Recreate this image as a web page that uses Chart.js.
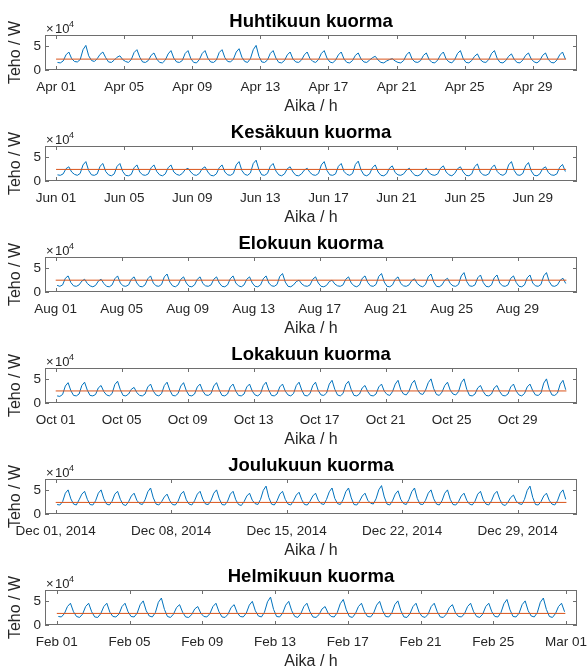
<!DOCTYPE html>
<html>
<head>
<meta charset="utf-8">
<script src="https://cdn.jsdelivr.net/npm/chart.js@4.4.1/dist/chart.umd.min.js"></script>
<style>
  body { margin: 0; background: #fff; }
  #wrap { position: relative; width: 587px; height: 670px; overflow: hidden; }
  #wrap canvas { position: absolute; left: 0; }
</style>
</head>
<body>
<div id="wrap"></div>
<script>
// load in kW, six samples per day taken at these hours
const sampleHours = [2, 6, 10, 14, 18, 22];

const titles = ['Huhtikuun kuorma', 'Kesäkuun kuorma', 'Elokuun kuorma',
  'Lokakuun kuorma', 'Joulukuun kuorma', 'Helmikuun kuorma'];
const monthDays = [30, 30, 31, 31, 31, 28];
const refLevels = [23, 24.5, 25, 25.5, 24.5, 24.5];

const aprLoad = [
  16,15,19,32,38,24, 18,17,22,43,52,30, 20,18,24,33,38,26, 17,16,21,27,30,22,
  18,16,22,37,43,27, 17,16,20,31,36,23, 16,15,21,34,41,25, 17,16,20,35,41,24,
  16,15,22,35,41,25, 17,16,21,37,43,26, 18,17,23,38,45,27, 18,16,24,43,52,29,
  17,16,21,35,41,25, 16,15,20,32,38,23, 17,16,21,32,38,24, 18,16,22,35,41,25,
  17,15,21,32,38,23, 16,15,20,31,36,23, 17,16,21,26,29,21, 16,15,19,22,24,19,
  16,15,20,32,38,23, 17,16,20,31,36,22, 16,15,21,32,38,23, 17,15,22,35,41,24,
  16,15,20,29,34,22, 17,16,22,35,41,24, 16,15,20,29,34,22, 16,15,21,31,36,23,
  17,15,20,31,36,22, 16,15,21,32,38,23
];
const junLoad = [
  13,12,15,26,30,19, 14,12,16,34,41,22, 13,12,15,31,37,20, 13,11,15,31,37,20,
  12,11,14,28,34,19, 13,12,15,28,34,20, 13,11,15,28,34,19, 14,12,16,24,27,19,
  13,12,16,26,30,19, 12,11,15,28,34,19, 13,12,16,34,41,22, 14,12,17,37,44,24,
  13,12,16,31,37,21, 13,11,15,26,30,19, 12,11,15,23,27,18, 13,12,16,34,41,22,
  13,12,15,31,37,20, 14,12,16,35,42,23, 13,11,15,28,34,19, 12,11,15,27,32,18,
  13,12,15,23,27,18, 12,11,14,23,27,17, 13,12,15,27,32,19, 13,11,16,26,30,19,
  12,11,15,30,36,19, 13,12,15,28,34,20, 14,12,16,34,41,22, 13,12,16,32,39,21,
  12,11,15,26,30,18, 13,12,15,29,35,20
];
const augLoad = [
  14,12,15,29,34,20, 13,12,15,23,27,18, 13,11,14,23,27,18, 12,11,15,28,34,19,
  13,12,15,27,32,19, 12,11,15,28,34,19, 13,12,16,32,38,21, 13,11,15,27,32,19,
  12,11,15,27,32,18, 13,12,15,27,32,19, 12,11,15,28,34,19, 13,11,15,27,32,19,
  12,11,15,28,34,19, 13,12,16,33,39,21, 12,11,15,22,25,17, 13,12,15,27,32,19,
  12,11,14,22,25,17, 13,12,15,27,32,19, 13,11,15,29,34,20, 13,12,16,33,39,21,
  12,11,15,27,32,18, 13,12,15,24,28,18, 13,11,16,32,38,21, 12,11,15,25,29,18,
  13,12,16,34,41,22, 13,12,15,30,36,20, 12,11,15,30,36,19, 13,12,15,29,34,20,
  12,11,15,30,36,19, 13,12,16,34,41,22, 13,12,15,25,29,18
];
const octLoad = [
  15,14,18,36,43,26, 16,15,19,37,44,27, 16,15,18,32,37,24, 17,15,20,39,46,28,
  16,15,19,29,33,22, 16,15,19,34,40,25, 17,15,20,37,44,27, 16,15,20,36,43,26,
  16,15,19,34,40,25, 17,16,20,36,43,27, 16,15,19,34,40,25, 16,15,19,34,40,25,
  17,15,20,37,44,27, 16,15,19,34,40,25, 17,15,20,37,44,27, 16,15,20,37,44,26,
  17,16,21,40,48,29, 17,15,20,39,46,28, 16,15,19,32,37,24, 16,15,19,34,40,25,
  18,16,24,40,48,28, 19,17,25,41,48,29, 20,18,27,43,51,30, 18,16,23,37,44,27,
  19,17,24,43,51,29, 16,15,19,32,37,24, 16,15,19,32,37,24, 16,15,19,34,40,25,
  17,15,20,34,40,26, 17,16,21,42,51,29, 17,16,21,40,48,28
];
const decLoad = [
  20,19,26,44,51,32, 21,19,30,42,48,31, 20,19,28,44,51,32, 21,19,27,42,48,31,
  20,18,26,38,44,29, 22,20,30,47,55,34, 21,19,26,36,42,28, 20,19,27,42,48,30,
  21,19,28,42,48,31, 21,20,29,44,51,32, 20,19,27,42,48,30, 20,18,26,38,44,29,
  22,20,31,50,59,35, 21,19,28,42,48,31, 21,19,28,40,46,30, 20,19,27,38,44,29,
  22,20,31,47,55,33, 22,20,30,47,55,34, 20,19,27,38,44,29, 23,21,32,51,60,36,
  21,19,28,42,49,31, 22,20,31,47,55,33, 21,20,29,44,51,32, 21,19,28,44,51,31,
  20,19,26,38,44,29, 21,19,27,42,48,30, 21,19,28,42,48,31, 20,18,25,35,40,27,
  22,20,31,50,59,35, 20,19,26,38,44,29, 21,19,28,44,51,31
];
const febLoad = [
  18,17,24,39,46,28, 18,16,23,39,46,28, 17,16,24,39,46,27, 18,17,23,39,46,28,
  18,17,25,43,51,30, 19,17,26,48,57,33, 18,16,23,37,43,27, 17,16,22,34,39,25,
  18,17,24,39,46,28, 17,16,23,37,43,26, 18,17,25,42,50,30, 19,17,27,49,59,33,
  18,17,25,42,50,30, 18,16,24,39,46,28, 17,16,22,34,39,25, 18,17,26,45,54,32,
  18,16,24,39,46,28, 18,17,25,42,50,30, 18,17,25,43,51,30, 17,16,24,39,46,27,
  18,16,23,39,46,28, 17,16,23,37,43,26, 18,17,24,39,46,28, 18,16,23,39,46,28,
  18,17,26,45,54,32, 18,17,25,43,51,30, 19,17,26,48,57,33, 18,16,24,39,46,28
];

const fourDayTicks = [0, 4, 8, 12, 16, 20, 24, 28];
const weekTicks = [0, 7, 14, 21, 28];
const aprTicks = ['Apr 01', 'Apr 05', 'Apr 09', 'Apr 13', 'Apr 17', 'Apr 21', 'Apr 25', 'Apr 29'];
const junTicks = ['Jun 01', 'Jun 05', 'Jun 09', 'Jun 13', 'Jun 17', 'Jun 21', 'Jun 25', 'Jun 29'];
const augTicks = ['Aug 01', 'Aug 05', 'Aug 09', 'Aug 13', 'Aug 17', 'Aug 21', 'Aug 25', 'Aug 29'];
const octTicks = ['Oct 01', 'Oct 05', 'Oct 09', 'Oct 13', 'Oct 17', 'Oct 21', 'Oct 25', 'Oct 29'];
const decTicks = ['Dec 01, 2014', 'Dec 08, 2014', 'Dec 15, 2014', 'Dec 22, 2014', 'Dec 29, 2014'];
const febTicks = ['Feb 01', 'Feb 05', 'Feb 09', 'Feb 13', 'Feb 17', 'Feb 21', 'Feb 25', 'Mar 01'];

const loads = [aprLoad, junLoad, augLoad, octLoad, decLoad, febLoad];
const tickLabels = [aprTicks, junTicks, augTicks, octTicks, decTicks, febTicks];
const tickDays = [fourDayTicks, fourDayTicks, fourDayTicks, fourDayTicks, weekTicks, fourDayTicks];

const FONT = '"Liberation Sans", Arial, Helvetica, sans-serif';
const AXIS_COLOR = '#262626';
Chart.defaults.font.family = FONT;

// MATLAB style box with inward ticks and the x10^4 multiplier
const matlabBox = {
  id: 'matlabBox',
  afterDatasetsDraw(chart) {
    const { ctx, chartArea: a, scales: { x, y } } = chart;
    ctx.save();
    ctx.strokeStyle = '#6e6e6e';
    ctx.lineWidth = 1;
    ctx.strokeRect(a.left + 0.5, a.top + 0.5, a.width - 1, a.height - 1);
    ctx.beginPath();
    x.ticks.forEach(t => {
      const px = Math.round(x.getPixelForValue(t.value)) + 0.5;
      ctx.moveTo(px, a.bottom); ctx.lineTo(px, a.bottom - 4);
      ctx.moveTo(px, a.top); ctx.lineTo(px, a.top + 4);
    });
    y.ticks.forEach(t => {
      const py = Math.round(y.getPixelForValue(t.value)) + 0.5;
      ctx.moveTo(a.left, py); ctx.lineTo(a.left + 4, py);
      ctx.moveTo(a.right, py); ctx.lineTo(a.right - 4, py);
    });
    ctx.stroke();

    ctx.fillStyle = AXIS_COLOR;
    ctx.textBaseline = 'alphabetic';
    ctx.font = '13px ' + FONT;
    ctx.fillText('\u00d7', a.left + 1, a.top - 2);
    ctx.fillText('10', a.left + 10, a.top - 2);
    ctx.font = '9px ' + FONT;
    ctx.fillText('4', a.left + 24, a.top - 8);
    ctx.restore();
  }
};

const wrap = document.getElementById('wrap');

loads.forEach((load, i) => {
  const days = monthDays[i];
  const canvas = document.createElement('canvas');
  canvas.width = 587;
  canvas.height = 116;
  canvas.style.top = (i * 111) + 'px';
  wrap.appendChild(canvas);

  const blue = load.map((v, k) => ({
    x: Math.floor(k / sampleHours.length) + sampleHours[k % sampleHours.length] / 24,
    y: v
  }));
  const ref = [{ x: 0, y: refLevels[i] }, { x: days - 1 / 24, y: refLevels[i] }];
  const labels = tickLabels[i];

  new Chart(canvas.getContext('2d'), {
    type: 'line',
    data: {
      datasets: [
        { data: ref, borderColor: '#D95319', borderWidth: 1, pointRadius: 0 },
        { data: blue, borderColor: '#0072BD', borderWidth: 1, pointRadius: 0 }
      ]
    },
    options: {
      responsive: false,
      animation: false,
      layout: { padding: { top: 0, left: 0, right: 10, bottom: 0 } },
      plugins: {
        legend: { display: false },
        tooltip: { enabled: false },
        title: {
          display: true,
          text: titles[i],
          fullSize: false,
          color: '#000',
          font: { size: 18.5, weight: 'bold' },
          padding: { top: 10.9, bottom: 1.9 }
        }
      },
      scales: {
        x: {
          type: 'linear',
          min: -0.65,
          max: days + 0.6,
          grid: { display: false, drawTicks: false },
          border: { display: false },
          afterBuildTicks: s => { s.ticks = tickDays[i].map(v => ({ value: v })); },
          afterFit: s => { s.height = 46; s.paddingLeft = 0; s.paddingRight = 0; },
          ticks: {
            autoSkip: false,
            maxRotation: 0,
            padding: 9,
            color: AXIS_COLOR,
            font: { size: 13.5 },
            callback: (v, idx) => labels[idx]
          },
          title: {
            display: true,
            text: 'Aika / h',
            color: AXIS_COLOR,
            font: { size: 16 },
            padding: { top: 0, bottom: 0 }
          }
        },
        y: {
          min: 0,
          max: 74,
          grid: { display: false, drawTicks: false },
          border: { display: false },
          afterBuildTicks: s => { s.ticks = [{ value: 0 }, { value: 50 }]; },
          afterFit: s => { s.width = 45; s.paddingTop = 0; s.paddingBottom = 0; },
          ticks: {
            padding: 4,
            color: AXIS_COLOR,
            font: { size: 13.5 },
            callback: v => String(v / 10)
          },
          title: {
            display: true,
            text: 'Teho / W',
            color: AXIS_COLOR,
            font: { size: 16 },
            padding: { top: 6, bottom: 0 }
          }
        }
      }
    },
    plugins: [matlabBox]
  });
});
</script>
</body>
</html>
